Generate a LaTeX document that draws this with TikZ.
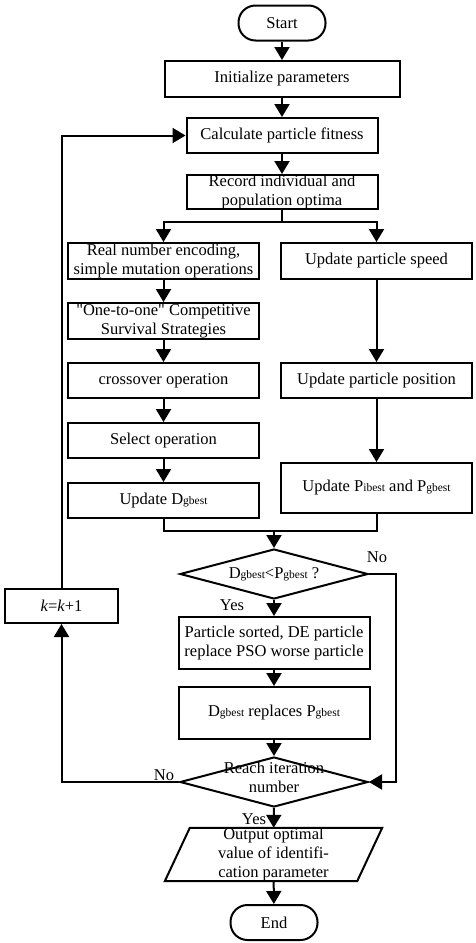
\documentclass[tikz,border=0pt]{standalone}
\usepackage{fontspec}
\setmainfont{Liberation Serif}
\usetikzlibrary{arrows.meta,shapes.geometric}

\newcommand{\lo}[1]{{\fontsize{11.5}{11.5}\selectfont #1}}

\tikzset{
    box/.style={draw, line width=2pt, minimum width=191pt, minimum height=35pt, inner sep=0pt, align=center},
    term/.style={box, minimum width=87pt, rounded corners=17pt},
    decision/.style={draw, diamond, line width=2pt, minimum width=188pt, minimum height=50pt, inner sep=0pt, aspect=3.76},
    arr/.style={-{Triangle[width=15pt,length=13pt]}, line width=2pt},
    line/.style={line width=2pt}
}

\begin{document}
\begin{tikzpicture}[x=1pt, y=-1pt, font=\fontsize{16.5}{19}\selectfont]
            \useasboundingbox (0, 0) rectangle (475, 943);

            \node[term] (start) at (282, 23) {Start};
            \node[box, minimum width=235pt, minimum height=36pt] (init) at (282, 79) {Initialize parameters};
            \node[box] (fit) at (282, 135.5) {Calculate particle fitness};
            \node[box, minimum height=34pt] (rec) at (282, 192) {Record individual and\\population optima};
            \coordinate (split) at (282, 222);

            \node[box, minimum height=36pt] (real) at (163.5, 261) {Real number encoding,\\simple mutation operations};
            \node[box, minimum height=36pt] (one) at (163.5, 321) {\textquotedbl One-to-one\textquotedbl{} Competitive\\Survival Strategies};
            \node[box] (cross) at (163.5, 380.5) {crossover operation};
            \node[box] (sel) at (163.5, 440.5) {Select operation};
            \node[box] (upd) at (163.5, 500.5) {Update D\lo{gbest}};

            \node[box, minimum height=36pt] (speed) at (376.5, 261) {Update particle speed};
            \node[box] (pos) at (376.5, 380.5) {Update particle position};
            \node[box, minimum height=50pt] (pib) at (376.5, 488) {Update P\lo{ibest} and P\lo{gbest}};

            \coordinate (join) at (274, 531);
            \node[decision] (dia1) at (274, 574) {D\lo{gbest}<P\lo{gbest} ?};
            \node[box, minimum height=52pt] (sort) at (274, 643) {Particle sorted, DE particle\\replace PSO worse particle};
            \node[box, minimum height=52pt] (repl) at (274, 713) {D\lo{gbest} replaces P\lo{gbest}};
            \node[box, minimum width=113pt, minimum height=34pt] (kbox) at (61.5, 606) {\textit{k}=\textit{k}+1};
            \node[decision] (dia2) at (274, 782) {\smash{\parbox[c]{110pt}{\centering Reach iteration\\number}}};
            \node[minimum width=192pt, minimum height=53pt, inner sep=0pt, align=center] (out) at (273.5, 854.5) {Output optimal\\value of identifi-\\cation parameter};
            \draw[line] ([xshift=12.5pt]out.north west) -- ([xshift=12.5pt]out.north east)
                     -- ([xshift=-12.5pt]out.south east) -- ([xshift=-12.5pt]out.south west) -- cycle;
            \node[term] (end) at (274, 922.5) {End};

            \node (no1) at (377, 557) {No};
            \node (yes1) at (232, 605) {Yes};
            \node (no2) at (164, 775) {No};
            \node (yes2) at (254, 819) {Yes};

            \foreach \a/\b in {start/init, init/fit, fit/rec, real/one, one/cross, cross/sel, sel/upd,
                               speed/pos, pos/pib, dia1/sort, sort/repl, repl/dia2, dia2/out, out/end}{
                \draw[arr] (\a) to (\b);
            }

            \draw[line] (rec) to (split);
            \draw[arr] (split) -| (real);
            \draw[arr] (split) -| (speed);
            \draw[line] (upd) |- (join);
            \draw[line] (pib) |- (join);
            \draw[arr] (join) to (dia1);
            \draw[arr] (dia1.east) -- ++(27, 0) |- (dia2.east);
            \draw[arr] (dia2) -| (kbox);
            \draw[arr] (kbox) |- (fit);
        \end{tikzpicture}
\end{document}
